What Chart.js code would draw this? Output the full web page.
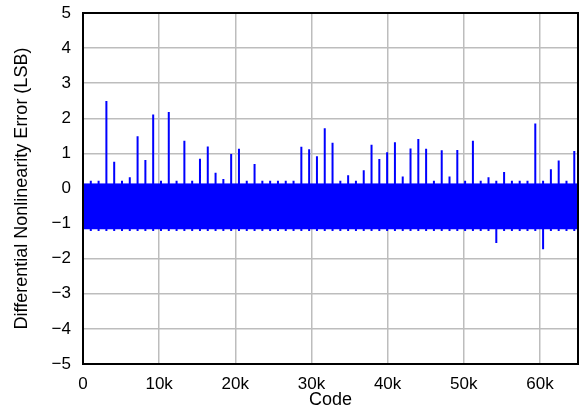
<!DOCTYPE html>
<html>
<head>
<meta charset="utf-8">
<script src="https://cdn.jsdelivr.net/npm/chart.js@4.4.0/dist/chart.umd.min.js"></script>
<style>
  html, body { margin: 0; padding: 0; background: #fff; }
  #wrap { width: 579px; height: 419px; }
</style>
</head>
<body>
<div id="wrap"><canvas id="dnlChart" width="579" height="419"></canvas></div>
<script>
// Codes where the DNL spikes sit (every 1024 codes)
const spikeCodes = [
    1024, 2048, 3072, 4096, 5120, 6144, 7168, 8192, 9216, 10240,
    11264, 12288, 13312, 14336, 15360, 16384, 17408, 18432, 19456, 20480,
    21504, 22528, 23552, 24576, 25600, 26624, 27648, 28672, 29696, 30720,
    31744, 32768, 33792, 34816, 35840, 36864, 37888, 38912, 39936, 40960,
    41984, 43008, 44032, 45056, 46080, 47104, 48128, 49152, 50176, 51200,
    52224, 53248, 54272, 55296, 56320, 57344, 58368, 59392, 60416, 61440,
    62464, 63488, 64512
];
// Peak (positive) DNL at each spike code, LSB
const spikeHigh = [
    0.22, 0.22, 2.49, 0.76, 0.22, 0.32, 1.49, 0.81, 2.11, 0.22,
    2.18, 0.22, 1.36, 0.22, 0.85, 1.20, 0.45, 0.27, 0.98, 1.13,
    0.22, 0.70, 0.22, 0.22, 0.22, 0.22, 0.22, 1.19, 1.12, 0.92,
    1.72, 1.30, 0.22, 0.38, 0.22, 0.52, 1.25, 0.84, 1.03, 1.32,
    0.34, 1.14, 1.41, 1.13, 0.22, 1.09, 0.34, 1.10, 0.22, 1.36,
    0.22, 0.32, 0.22, 0.47, 0.22, 0.22, 0.22, 1.85, 0.22, 0.55,
    0.80, 0.22, 1.07
];
// Lowest (negative) DNL at each spike code, LSB
const spikeLow = [
    -1.21, -1.21, -1.21, -1.21, -1.21, -1.21, -1.21, -1.21, -1.21, -1.21,
    -1.21, -1.21, -1.21, -1.21, -1.21, -1.21, -1.21, -1.21, -1.21, -1.21,
    -1.21, -1.21, -1.21, -1.21, -1.21, -1.21, -1.21, -1.21, -1.21, -1.21,
    -1.21, -1.21, -1.21, -1.21, -1.21, -1.21, -1.21, -1.21, -1.21, -1.21,
    -1.21, -1.21, -1.21, -1.21, -1.21, -1.21, -1.21, -1.21, -1.21, -1.21,
    -1.21, -1.21, -1.55, -1.21, -1.21, -1.21, -1.21, -1.21, -1.73, -1.21,
    -1.21, -1.21, -1.21
];

// Dense noise band that fills most codes
const bandCodes = [0, 65000];
const bandTop = [0.13, 0.13];
const bandBottom = -1.16;

const xTicks = [0, 10000, 20000, 30000, 40000, 50000, 60000];
const xTickLabels = ['0', '10k', '20k', '30k', '40k', '50k', '60k'];
const yTicks = [5, 4, 3, 2, 1, 0, -1, -2, -3, -4, -5];

const BLUE = '#0000ff';
const FONT = 'Liberation Sans, Arial, Helvetica, sans-serif';

// vertical segments, broken with nulls
const spikePoints = [];
spikeCodes.forEach((c, i) => {
    spikePoints.push({ x: c, y: spikeLow[i] });
    spikePoints.push({ x: c, y: spikeHigh[i] });
    spikePoints.push({ x: c, y: null });
});

const framePlugin = {
    id: 'frame',
    afterDraw(chart) {
        const { ctx, chartArea: a } = chart;
        ctx.save();
        ctx.strokeStyle = '#000';
        ctx.lineWidth = 2;
        ctx.strokeRect(a.left, a.top, a.right - a.left, a.bottom - a.top);
        ctx.restore();
    }
};

new Chart(document.getElementById('dnlChart'), {
    type: 'scatter',
    data: {
        datasets: [
            {
                label: 'band',
                data: bandCodes.map((c, i) => ({ x: c, y: bandTop[i] })),
                showLine: true,
                borderColor: BLUE,
                borderWidth: 1,
                backgroundColor: BLUE,
                fill: { value: bandBottom },
                pointRadius: 0
            },
            {
                label: 'spikes',
                data: spikePoints,
                showLine: true,
                spanGaps: false,
                borderColor: BLUE,
                borderWidth: 2,
                pointRadius: 0
            }
        ]
    },
    options: {
        responsive: false,
        animation: false,
        events: [],
        layout: { padding: { top: 13, right: 1, left: 0, bottom: 0 } },
        plugins: {
            legend: { display: false },
            tooltip: { enabled: false }
        },
        scales: {
            x: {
                type: 'linear',
                min: 0,
                max: 65000,
                afterFit(scale) {
                    scale.height = 55;
                    scale.paddingLeft = 0;
                    scale.paddingRight = 0;
                },
                afterBuildTicks(scale) { scale.ticks = xTicks.map(v => ({ value: v })); },
                grid: { color: '#bdbdbd', lineWidth: 1.5, drawTicks: false },
                border: { display: false },
                ticks: {
                    padding: 10,
                    color: '#000',
                    font: { family: FONT, size: 17 },
                    maxRotation: 0,
                    callback: (v) => xTickLabels[xTicks.indexOf(v)]
                },
                title: {
                    display: true,
                    text: 'Code',
                    color: '#000',
                    font: { family: FONT, size: 18 },
                    padding: { top: 0, bottom: 8 }
                }
            },
            y: {
                min: -5,
                max: 5,
                afterFit(scale) {
                    scale.width = 83;
                    scale.paddingTop = 0;
                    scale.paddingBottom = 0;
                },
                afterBuildTicks(scale) { scale.ticks = yTicks.map(v => ({ value: v })); },
                grid: { color: '#bdbdbd', lineWidth: 1.5, drawTicks: false },
                border: { display: false },
                ticks: {
                    padding: 12,
                    color: '#000',
                    font: { family: FONT, size: 17 },
                    callback: (v) => (v < 0 ? '\u2212' + Math.abs(v) : String(v))
                },
                title: {
                    display: true,
                    text: 'Differential Nonlinearity Error (LSB)',
                    color: '#000',
                    font: { family: FONT, size: 18 },
                    padding: { top: 11, bottom: 0 }
                }
            }
        }
    },
    plugins: [framePlugin]
});
</script>
</body>
</html>
